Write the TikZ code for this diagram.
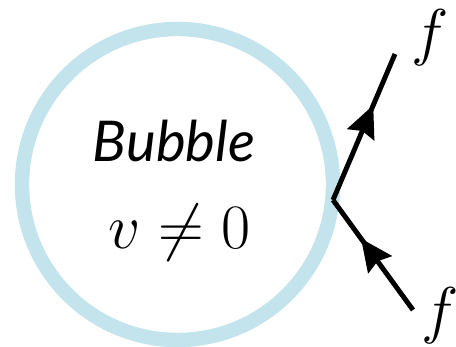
\RequirePackage{fix-cm}
\documentclass[tikz,border=0pt]{standalone}
\usepackage{amsmath, amssymb}
\usepackage{fontspec}
\newfontfamily\bubblefont{Lato}
\usetikzlibrary{arrows.meta, decorations.markings, positioning}
\definecolor{bubbleblue}{RGB}{195,228,236}

\begin{document}
\begin{tikzpicture}[thick]

    % Define styles
    \tikzstyle{wall} = [line width=8.2pt, bubbleblue]
    \tikzstyle{fermion} = [line width=2.8pt, black, line cap=butt,
        decoration={markings, mark=at position 0.65 with {\arrow{Stealth[length=0.64cm, width=0.58cm, inset=0.08cm]}}},
        postaction={decorate}]
    \tikzstyle{biglabel} = [inner sep=0pt, font=\fontsize{36}{40}\selectfont]

    \useasboundingbox (0,0) rectangle (9.12,6.94);

    % Define key points
    \coordinate (centre) at (3.55, 3.25);
    \coordinate (vertex) at (6.66, 2.94);
    \coordinate (fin) at (8.26, 0.74);
    \coordinate (fout) at (7.90, 5.86);

    % Draw bubble wall
    \draw[wall] (centre) circle (3.11);

    % Text inside the bubble
    \node[inner sep=0pt, font=\fontsize{32}{36}\selectfont] (name) at (3.48, 4.12) {\bubblefont\itshape Bubble};
    \node[biglabel] (vev) at (3.59, 2.28) {$v \neq 0$};

    % Fermion lines
    \draw[fermion] (fin) -- (vertex);
    \draw[fermion] (vertex) -- (fout);

    % Labels
    \node[biglabel] (fintext) at (8.80, 0.62) {$f$};
    \node[biglabel] (fouttext) at (8.60, 6.18) {$f$};

\end{tikzpicture}
\end{document}
